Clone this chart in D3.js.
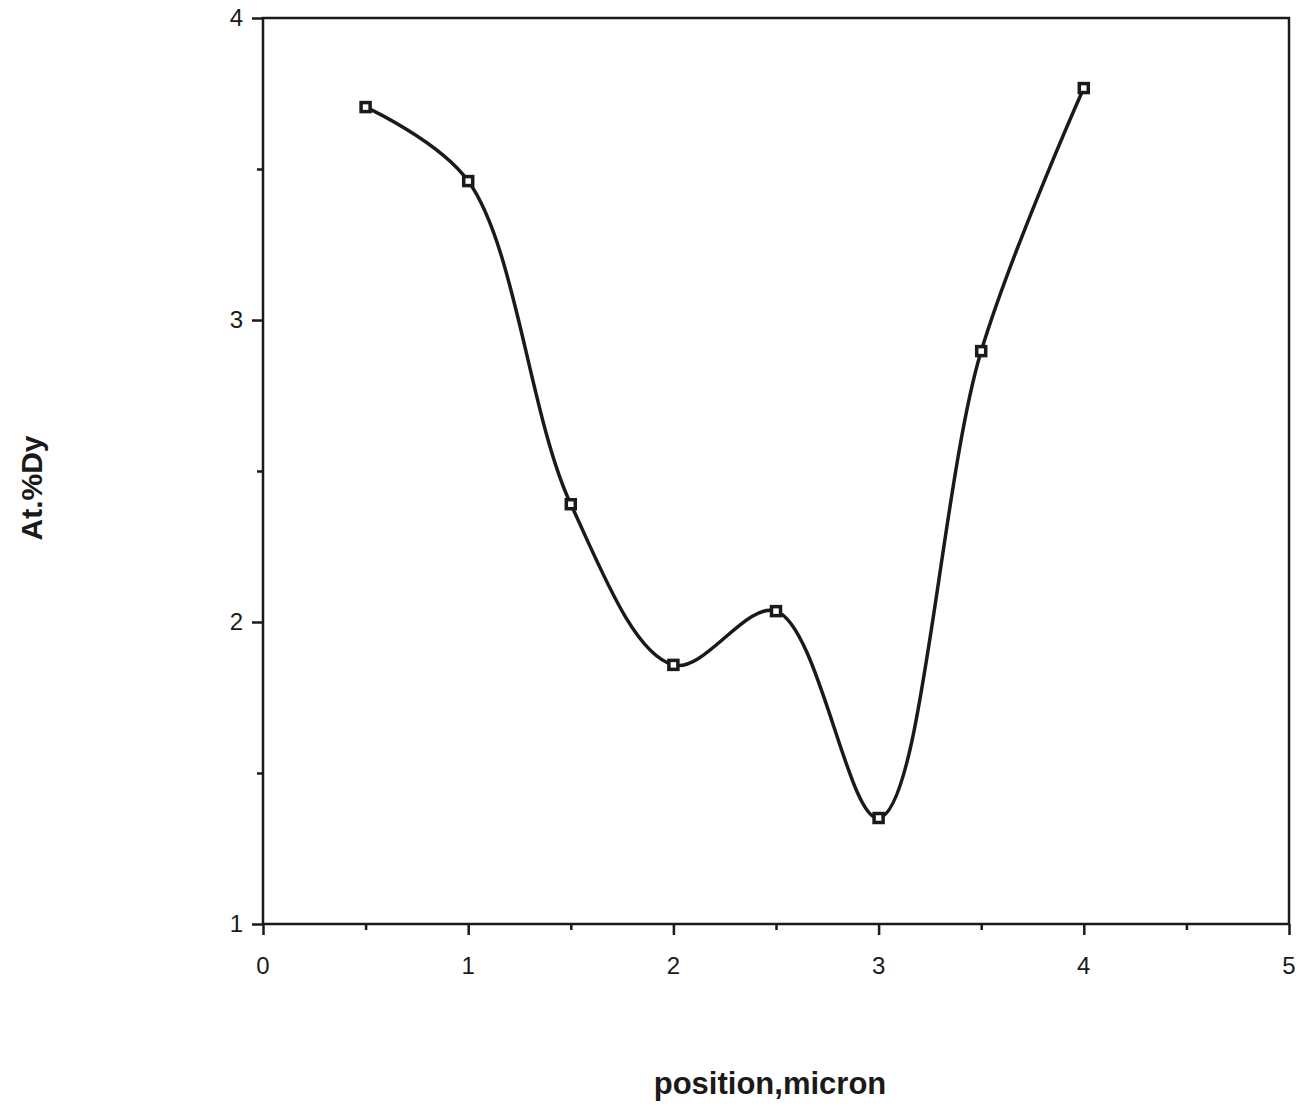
<!DOCTYPE html>
<html><head><meta charset="utf-8">
<script src="https://cdn.jsdelivr.net/npm/d3@7"></script>
<style>body{margin:0;background:#fff}svg{display:block}text{font-family:"Liberation Sans",Arial,sans-serif;fill:#1a1a1a}</style>
</head><body>
<script>
const positions = [0.5, 1, 1.5, 2, 2.5, 3, 3.5, 4];
const dyValues = [3.705, 3.46, 2.39, 1.858, 2.036, 1.351, 2.897, 3.768];
const xTickLabels = [0, 1, 2, 3, 4, 5];
const yTickLabels = [1, 2, 3, 4];
const xTitle = "position,micron";
const yTitle = "At.%Dy";

const W = 1301, H = 1108;
const svg = d3.select("body").append("svg").attr("width", W).attr("height", H);
const x = d3.scaleLinear().domain([0, 5]).range([263, 1289]);
const y = d3.scaleLinear().domain([1, 4]).range([924, 18]);
const ink = "#1a1a1a";

// frame
svg.append("rect").attr("x", x(0)).attr("y", y(4)).attr("width", x(5) - x(0)).attr("height", y(1) - y(4))
  .attr("fill", "none").attr("stroke", ink).attr("stroke-width", 2.5);

function styleTicks(g) {
  g.select(".domain").remove();
  g.selectAll("line").attr("stroke", ink).attr("stroke-width", 2.5);
  g.selectAll("text").remove();
}

// x axis ticks
svg.append("g").attr("transform", `translate(0,${y(1)})`)
  .call(d3.axisBottom(x).tickValues(xTickLabels).tickSize(11).tickFormat("")).call(styleTicks);
svg.append("g").attr("transform", `translate(0,${y(1)})`)
  .call(d3.axisBottom(x).tickValues([0.5, 1.5, 2.5, 3.5, 4.5]).tickSize(6).tickFormat("")).call(styleTicks);
svg.append("g").selectAll("text").data(xTickLabels).enter().append("text")
  .attr("x", d => x(d)).attr("y", y(1) + 50).attr("text-anchor", "middle")
  .attr("font-size", 24).style("font-size", "24px").text(d => d);

// y axis ticks
svg.append("g").attr("transform", `translate(${x(0)},0)`)
  .call(d3.axisLeft(y).tickValues(yTickLabels).tickSize(11).tickFormat("")).call(styleTicks);
svg.append("g").attr("transform", `translate(${x(0)},0)`)
  .call(d3.axisLeft(y).tickValues([1.5, 2.5, 3.5]).tickSize(6).tickFormat("")).call(styleTicks);
svg.append("g").selectAll("text").data(yTickLabels).enter().append("text")
  .attr("x", x(0) - 20).attr("y", d => y(d) + 8).attr("text-anchor", "end")
  .attr("font-size", 24).style("font-size", "24px").text(d => d);

// line
const data = positions.map((p, i) => ({x: p, y: dyValues[i]}));
const line = d3.line().x(d => x(d.x)).y(d => y(d.y)).curve(d3.curveCatmullRom.alpha(0.5));
svg.append("path").datum(data).attr("d", line).attr("fill", "none").attr("stroke", ink).attr("stroke-width", 3.5);

// markers
svg.selectAll("rect.m").data(data).enter().append("rect").attr("class", "m")
  .attr("x", d => x(d.x) - 4.5).attr("y", d => y(d.y) - 4.5).attr("width", 9).attr("height", 9)
  .attr("fill", "#fff").attr("stroke", ink).attr("stroke-width", 3.5);

// titles
svg.append("text").attr("x", 770).attr("y", 1094).attr("text-anchor", "middle")
  .style("font-size", "31px").style("font-weight", "bold").text(xTitle);
svg.append("text").attr("transform", "translate(42,488) rotate(-90)").attr("text-anchor", "middle")
  .style("font-size", "30px").style("font-weight", "bold").text(yTitle);
</script>
</body></html>
